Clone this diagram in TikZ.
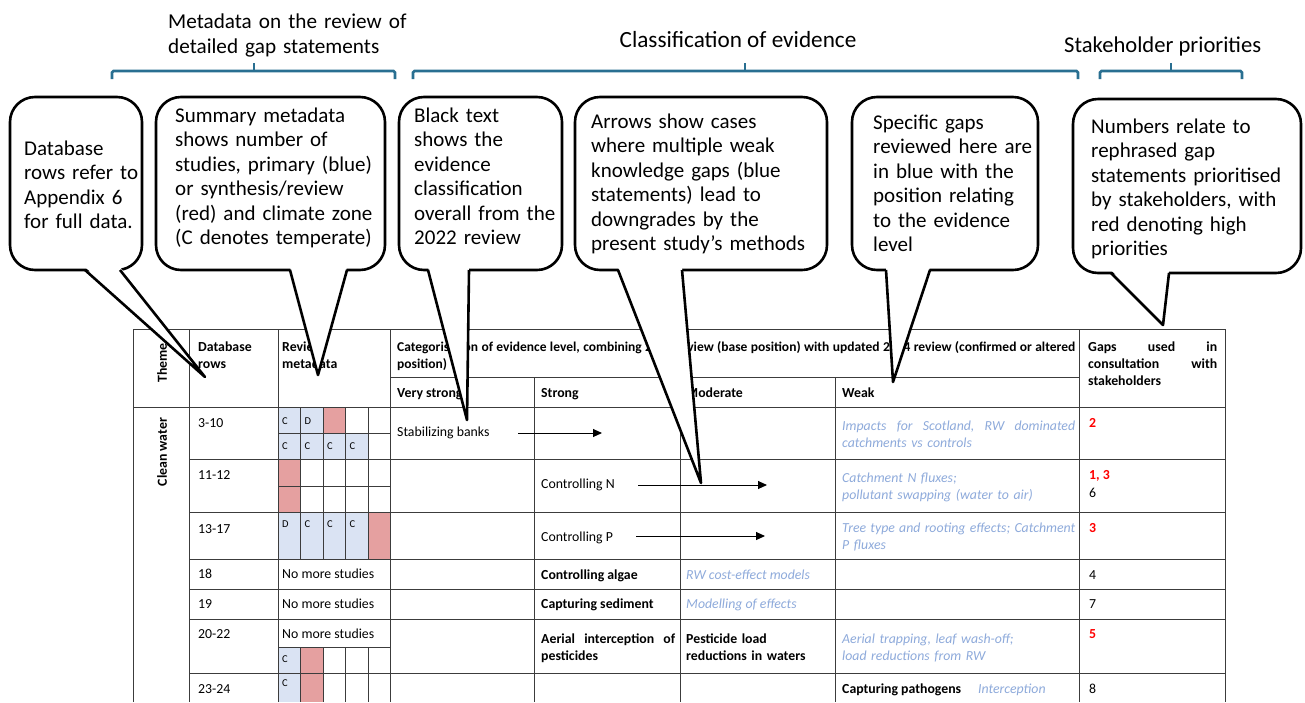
\documentclass[tikz,border=0pt]{standalone}
\usepackage{fontspec}
\setmainfont{Carlito}
\usetikzlibrary{positioning,calc,arrows.meta}

\definecolor{braceblue}{RGB}{41,111,145}
\definecolor{gapblue}{RGB}{142,170,219}
\definecolor{cellblue}{RGB}{218,227,243}
\definecolor{cellred}{RGB}{229,160,160}
\definecolor{rulegray}{RGB}{60,60,60}

\tikzset{
    % Brackets and headings above the table
    brace/.style={draw=braceblue, line width=2.6pt, rounded corners=1.5pt},
    heading/.style={font=\fontsize{#1}{25}\selectfont, anchor=base west, inner sep=0pt},
    % Speech bubbles
    bubble/.style={draw, fill=white, line width=2.6pt, rounded corners=25pt,
                   anchor=north west, outer sep=0pt, inner sep=0pt},
    bubbletext/.style={font=\fontsize{21}{24.5}\selectfont, anchor=base west,
                       inner sep=0pt, text width=#1},
    tailline/.style={line width=2.6pt, line join=round},
    % Table
    tablerule/.style={draw=rulegray, line width=0.9pt},
    cell/.style={font=\fontsize{13.8}{17}\selectfont, anchor=base west, inner sep=0pt},
    headcell/.style={cell, font=\fontsize{13.8}{17}\selectfont\bfseries},
    gapcell/.style={cell, text=gapblue, font=\fontsize{13.8}{17}\selectfont\itshape},
    prio/.style={cell, text=red, font=\fontsize{13.8}{17}\selectfont\bfseries},
    metaletter/.style={font=\fontsize{10.5}{12}\selectfont, anchor=base west, inner sep=0pt},
    movearrow/.style={draw=black, line width=1pt, -{Triangle[length=9pt,width=8pt]}}
}

% justified line of a given width
\newcommand{\fullline}[2]{\makebox[#1pt][l]{#2}}
% tail of a bubble: node, left and right offset of the base, tip
\newcommand{\bubbletail}[4]{%
    \fill[white] ([xshift=#2pt,yshift=3pt]#1.south west) -- (#4)
        -- ([xshift=#3pt,yshift=3pt]#1.south west) -- cycle;
    \draw[tailline] ([xshift=#2pt]#1.south west) -- (#4) -- ([xshift=#3pt]#1.south west);
}

\begin{document}
\begin{tikzpicture}[x=1pt, y=-1pt]
    \fill[white] (0,0) rectangle (1305,702);
    \useasboundingbox (0,0) rectangle (1305,702);

    % Headings
    \node[heading=21.2, text width=260pt] (metaHead) at (168,28) {Metadata on the review of\\detailed gap statements};
    \node[heading=23.2, anchor=base] (classHead) at (738,47) {Classification of evidence};
    \node[heading=22.6] (stakeHead) at (1064,52) {Stakeholder priorities};

    % Brackets
    \draw[brace] (112,79) -- (112,71) -- (395,71) -- (395,79);
    \draw[brace] (254,71) -- (254,63);
    \draw[brace] (413,79) -- (413,71) -- (1078,71) -- (1078,79);
    \draw[brace] (745,71) -- (745,63);
    \draw[brace] (1100,79) -- (1100,71) -- (1242,71) -- (1242,79);
    \draw[brace] (1171,71) -- (1171,63);

    % Metadata cells
    \fill[cellblue] (278,407) rectangle (323,433);
    \fill[cellred] (323,407) rectangle (345.5,433);
    \fill[cellblue] (278,433) rectangle (368,459);
    \fill[cellred] (278,459) rectangle (300.5,512);
    \fill[cellblue] (278,512) rectangle (368,559);
    \fill[cellred] (368,512) rectangle (390,559);
    \fill[cellblue] (278,647) rectangle (300.5,702);
    \fill[cellred] (300.5,647) rectangle (323,702);

    % Table rules
    \draw[tablerule] (133,329) -- (1225,329);
    \draw[tablerule] (133,407) -- (1225,407);
    \draw[tablerule] (390,377) -- (1079,377);
    \foreach \y in {459,512,559,589,619,673}
        \draw[tablerule] (189,\y) -- (1225,\y);
    \foreach \y in {433,486,647}
        \draw[tablerule] (278,\y) -- (390,\y);
    \foreach \x in {133,189,278,390,1079,1225}
        \draw[tablerule] (\x,329) -- (\x,702);
    \foreach \x in {534,680,835}
        \draw[tablerule] (\x,377) -- (\x,702);
    \foreach \x in {300.5,323,345.5,368} {
        \draw[tablerule] (\x,407) -- (\x,559);
        \draw[tablerule] (\x,647) -- (\x,702);
    }

    % Header row
    \node[headcell, rotate=90, anchor=center] (themeHead) at (162,363) {Theme};
    \node[headcell, text width=80pt] (dbHead) at (198,351) {Database\\rows};
    \node[headcell, text width=100pt] (reviewHead) at (282,351) {Review\\metadata};
    \node[headcell, text width=678pt, font=\fontsize{13.5}{17}\selectfont\bfseries] (catHead) at (397,351)
        {\fullline{678}{Categorisation\hfill of\hfill evidence\hfill level,\hfill combining\hfill 2022\hfill review\hfill (base\hfill position)\hfill with\hfill updated\hfill 2024\hfill review\hfill (confirmed\hfill or\hfill altered}\\position)};
    \node[headcell] (vsHead) at (397,397) {Very strong};
    \node[headcell] (stHead) at (541,397) {Strong};
    \node[headcell] (moHead) at (686,397) {Moderate};
    \node[headcell] (wkHead) at (842,397) {Weak};
    \node[headcell, text width=129pt] (gapsHead) at (1088,351)
        {\fullline{129}{Gaps\hfill used\hfill in}\\\fullline{129}{consultation\hfill with}\\stakeholders};

    % Theme and database rows
    \node[headcell, rotate=90, anchor=center] (themeWater) at (162,452) {Clean water};
    \node[cell] (rowA) at (198,427) {3-10};
    \node[cell] (rowB) at (198,479) {11-12};
    \node[cell] (rowC) at (198,533) {13-17};
    \node[cell] (rowD) at (198,578) {18};
    \node[cell] (rowE) at (198,608) {19};
    \node[cell] (rowF) at (198,638) {20-22};
    \node[cell] (rowG) at (198,693) {23-24};

    % Review metadata
    \node[metaletter] (climA1) at (282,424) {C};
    \node[metaletter] (climA2) at (304.5,424) {D};
    \foreach \x [count=\i] in {282,304.5,327,349.5}
        \node[metaletter] (climB\i) at (\x,449) {C};
    \node[metaletter] (climC1) at (282,527) {D};
    \foreach \x [count=\i] in {304.5,327,349.5}
        \node[metaletter] (climC\i x) at (\x,527) {C};
    \node[metaletter] (climF) at (282,662) {C};
    \node[metaletter] (climG) at (282,686) {C};
    \node[cell] (noneD) at (282,578) {No more studies};
    \node[cell] (noneE) at (282,608) {No more studies};
    \node[cell] (noneF) at (282,638) {No more studies};

    % Evidence levels
    \node[cell] (bankTxt) at (397,436) {Stabilizing banks};
    \node[cell] (nTxt) at (541,488) {Controlling N};
    \node[cell] (pTxt) at (541,541) {Controlling P};
    \node[headcell] (algaeTxt) at (541,579) {Controlling algae};
    \node[headcell] (sedTxt) at (541,608) {Capturing sediment};
    \node[headcell, text width=134pt] (aerialTxt) at (541,643)
        {\fullline{134}{Aerial\hfill interception\hfill of}\\pesticides};
    \node[headcell, text width=140pt] (pestTxt) at (686,643) {Pesticide load\\reductions in waters};
    \node[gapcell] (costTxt) at (686,579) {RW cost-effect models};
    \node[gapcell] (modelTxt) at (686,608) {Modelling of effects};
    \node[gapcell, text width=233pt] (scotTxt) at (842,430)
        {\fullline{233}{Impacts\hfill for\hfill Scotland,\hfill RW\hfill dominated}\\catchments vs controls};
    \node[gapcell, text width=233pt] (fluxTxt) at (842,482)
        {Catchment N fluxes;\\pollutant swapping (water to air)};
    \node[gapcell, text width=233pt] (treeTxt) at (842,532)
        {\fullline{233}{Tree\hfill type\hfill and\hfill rooting\hfill effects;\hfill Catchment}\\P fluxes};
    \node[gapcell, text width=233pt] (washTxt) at (842,643)
        {Aerial trapping, leaf wash-off;\\load reductions from RW};
    \node[headcell] (pathTxt) at (842,693) {Capturing pathogens};
    \node[gapcell] (interTxt) at (978,693) {Interception};

    % Downgrade arrows
    \coordinate (bankFrom) at (518,433);
    \coordinate (bankTo) at (602,433);
    \coordinate (nFrom) at (638,485);
    \coordinate (nTo) at (767,485);
    \coordinate (pFrom) at (636,536);
    \coordinate (pTo) at (765,536);
    \draw[movearrow] (bankFrom) -- (bankTo);
    \draw[movearrow] (nFrom) -- (nTo);
    \draw[movearrow] (pFrom) -- (pTo);

    % Stakeholder gaps
    \node[prio] (gapA) at (1089,427) {2};
    \node[prio] (gapB) at (1089,479) {1, 3};
    \node[cell] (gapB2) at (1089,497) {6};
    \node[prio] (gapC) at (1089,532) {3};
    \node[cell] (gapD) at (1089,579) {4};
    \node[cell] (gapE) at (1089,608) {7};
    \node[prio] (gapF) at (1089,638) {5};
    \node[cell] (gapG) at (1089,693) {8};

    % Bubbles
    \node[bubble, minimum width=132pt, minimum height=173pt] (dbNote) at (10,97) {};
    \node[bubble, minimum width=229pt, minimum height=173pt] (metaNote) at (156,97) {};
    \node[bubble, minimum width=163pt, minimum height=173pt] (blackNote) at (399,97) {};
    \node[bubble, minimum width=252pt, minimum height=173pt] (arrowNote) at (575,97) {};
    \node[bubble, minimum width=186pt, minimum height=173pt] (gapNote) at (852,97) {};
    \node[bubble, minimum width=228pt, minimum height=174pt] (prioNote) at (1073,99) {};

    \coordinate (dbTip) at (205,377);
    \coordinate (metaTip) at (318,375);
    \coordinate (blackTip) at (467,420);
    \coordinate (arrowTip) at (701,483);
    \coordinate (gapTip) at (893,382);
    \coordinate (prioTip) at (1163,325);
    \bubbletail{dbNote}{75}{110}{dbTip}
    \bubbletail{metaNote}{134}{191}{metaTip}
    \bubbletail{blackNote}{29}{70}{blackTip}
    \bubbletail{arrowNote}{43}{107}{arrowTip}
    \bubbletail{gapNote}{34}{78}{gapTip}
    \bubbletail{prioNote}{38}{96}{prioTip}

    \node[bubbletext=125pt] (dbText) at (24,155)
        {Database\\rows refer to\\Appendix 6\\for full data.};
    \node[bubbletext=210pt] (metaText) at (175,122)
        {Summary metadata\\shows number of\\studies, primary (blue)\\or synthesis/review\\(red) and climate zone\\(C denotes temperate)};
    \node[bubbletext=150pt] (blackText) at (414,122)
        {Black text\\shows the\\evidence\\classification\\overall from the\\2022 review};
    \node[bubbletext=230pt] (arrowText) at (591,128)
        {Arrows show cases\\where multiple weak\\knowledge gaps (blue\\statements) lead to\\downgrades by the\\present study’s methods};
    \node[bubbletext=165pt] (gapText) at (873,129)
        {Specific gaps\\reviewed here are\\in blue with the\\position relating\\to the evidence\\level};
    \node[bubbletext=205pt] (prioText) at (1091,133)
        {Numbers relate to\\rephrased gap\\statements prioritised\\by stakeholders, with\\red denoting high\\priorities};
\end{tikzpicture}
\end{document}
